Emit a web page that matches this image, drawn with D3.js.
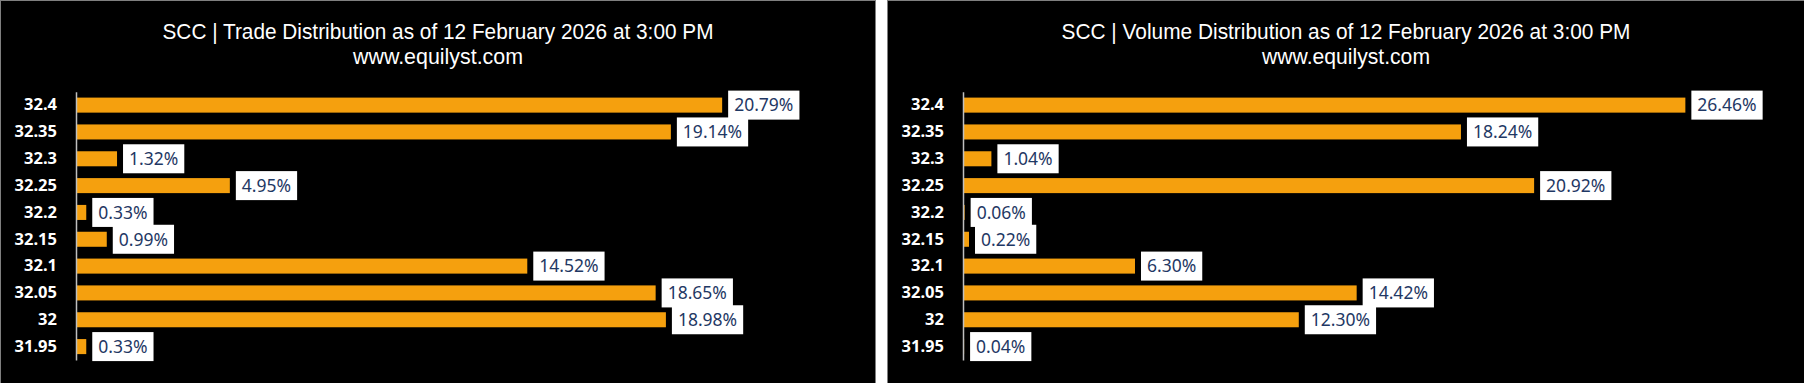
<!DOCTYPE html>
<html>
<head>
<meta charset="utf-8">
<script src="https://cdn.jsdelivr.net/npm/d3@7"></script>
<style>
  html, body { margin: 0; padding: 0; background: #ffffff; }
  svg { display: block; }
</style>
</head>
<body>
<svg id="chart" width="1804" height="383"></svg>
<script>
// ---- data ----
const categories = ["32.4", "32.35", "32.3", "32.25", "32.2", "32.15", "32.1", "32.05", "32", "31.95"];
const tradeValues = [20.79, 19.14, 1.32, 4.95, 0.33, 0.99, 14.52, 18.65, 18.98, 0.33];
const volumeValues = [26.46, 18.24, 1.04, 20.92, 0.06, 0.22, 6.30, 14.42, 12.30, 0.04];
const tradeAxisMax = 25;
const volumeAxisMax = 30;
const titles = [
  "SCC | Trade Distribution as of 12 February 2026 at 3:00 PM",
  "SCC | Volume Distribution as of 12 February 2026 at 3:00 PM"
];
const subtitle = "www.equilyst.com";

// ---- drawing ----
const svg = d3.select("#chart");
const fmt = d3.format(".2f");

function drawPanel(cfg) {
  const g = svg.append("g").attr("transform", `translate(${cfg.x},0)`);
  g.append("rect")
    .attr("x", 0.5).attr("y", 0.5)
    .attr("width", cfg.w - 1).attr("height", 420)
    .attr("fill", "#000").attr("stroke", "#7f7f7f").attr("stroke-width", 1);

  const cx = cfg.w / 2;
  g.append("text")
    .attr("x", cx).attr("y", 39)
    .attr("text-anchor", "middle")
    .attr("fill", "#ffffff")
    .attr("font-family", "'Liberation Sans Narrow', 'Arial Narrow', 'Liberation Sans', Arial, sans-serif")
    .attr("font-size", 22.5)
    .attr("textLength", cfg.titleLen)
    .attr("lengthAdjust", "spacingAndGlyphs")
    .text(cfg.title);
  g.append("text")
    .attr("x", cx).attr("y", 64)
    .attr("text-anchor", "middle")
    .attr("fill", "#ffffff")
    .attr("font-family", "'Liberation Sans Narrow', 'Arial Narrow', 'Liberation Sans', Arial, sans-serif")
    .attr("font-size", 22.5)
    .attr("textLength", cfg.subLen)
    .attr("lengthAdjust", "spacingAndGlyphs")
    .text(subtitle);

  const left = 76, right = cfg.w - 23;
  const x = d3.scaleLinear().domain([0, cfg.max]).range([left, right]);
  const y = d3.scaleBand().domain(categories).range([91.7, 360]).paddingInner(0.44).paddingOuter(0.22);

  const data = categories.map((c, i) => ({ c, v: cfg.values[i] }));

  g.selectAll("rect.bar").data(data).enter().append("rect")
    .attr("class", "bar")
    .attr("x", x(0))
    .attr("y", d => y(d.c))
    .attr("width", d => x(d.v) - x(0))
    .attr("height", y.bandwidth())
    .attr("fill", "#F5A00E");

  const axis = g.append("g")
    .attr("transform", `translate(${left},0)`)
    .call(d3.axisLeft(y).tickSize(0).tickPadding(19));
  axis.select(".domain").attr("stroke", "#bfbfbf").attr("stroke-width", 1.5);
  axis.selectAll("text")
    .attr("fill", "#ffffff")
    .attr("font-family", "'Noto Sans', sans-serif")
    .attr("font-weight", "bold")
    .attr("font-size", 16.5);

  const lab = g.selectAll("g.lab").data(data).enter().append("g").attr("class", "lab");
  lab.each(function (d) {
    const s = d3.select(this);
    const cy = y(d.c) + y.bandwidth() / 2;
    const bx = x(d.v) + 6;
    const t = s.append("text")
      .attr("y", cy)
      .attr("dy", "0.36em")
      .attr("fill", "#1F3864")
      .attr("font-family", "'Noto Sans', sans-serif")
      .attr("font-size", 17.5)
      .text(fmt(d.v) + "%");
    const tw = t.node().getComputedTextLength();
    const bw = tw + 12;
    s.insert("rect", "text")
      .attr("x", bx).attr("y", cy - 14.5)
      .attr("width", bw).attr("height", 29)
      .attr("fill", "#ffffff");
    t.attr("x", bx + 6);
  });
}

drawPanel({ x: 0, w: 876, values: tradeValues, max: tradeAxisMax, title: titles[0], titleLen: 551, subLen: 170 });
drawPanel({ x: 887, w: 918, values: volumeValues, max: volumeAxisMax, title: titles[1], titleLen: 569, subLen: 168 });
</script>
</body>
</html>
